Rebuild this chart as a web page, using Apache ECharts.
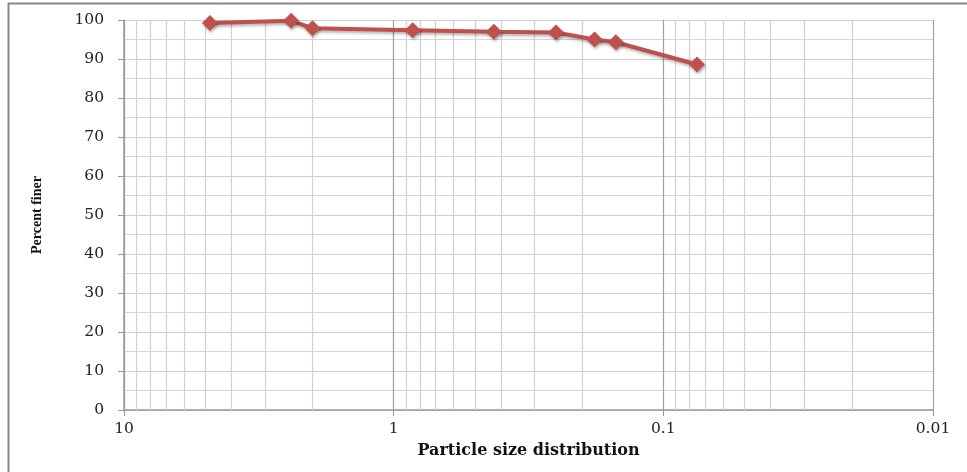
<!DOCTYPE html>
<html>
<head>
<meta charset="utf-8">
<script src="https://cdn.jsdelivr.net/npm/echarts@6/dist/echarts.min.js"></script>
<style>html,body{margin:0;padding:0;background:#fff}#c{width:967px;height:472px}</style>
</head>
<body>
<div id="c"></div>
<script>
// Particle sizes (mm) and percent finer
var sizes = [4.8, 2.4, 2.0, 0.85, 0.425, 0.25, 0.18, 0.15, 0.075];
var percentFiner = [99.2, 99.8, 97.9, 97.4, 97.0, 96.8, 95.0, 94.3, 88.6];
var xMin = 0.01, xMax = 10;
var yTicks = [0, 10, 20, 30, 40, 50, 60, 70, 80, 90, 100];
// minor log gridline positions (2..9 of each decade)
var minorGrid = [9,8,7,6,5,4,3,2, 0.9,0.8,0.7,0.6,0.5,0.4,0.3,0.2, 0.09,0.08,0.07,0.06,0.05,0.04,0.03,0.02];

var chart = echarts.init(document.getElementById('c'));
var serif = 'DejaVu Serif';
chart.setOption({
  animation: false,
  grid: {left: 124, right: 34, top: 20, bottom: 62},
  graphic: [
    {type: 'line', shape: {x1: 8.5, y1: 3, x2: 8.5, y2: 472}, style: {stroke: '#888', lineWidth: 2}},
    {type: 'line', shape: {x1: 8, y1: 3.5, x2: 967, y2: 3.5}, style: {stroke: '#888', lineWidth: 2}}
  ],
  xAxis: {
    type: 'log', logBase: 10, min: xMin, max: xMax, inverse: true,
    name: 'Particle size distribution', nameLocation: 'middle', nameGap: 33,
    nameTextStyle: {fontFamily: serif, fontWeight: 'bold', fontSize: 16, color: '#111'},
    axisLine: {show: true, lineStyle: {color: '#999', width: 1.5}},
    axisTick: {show: true, length: 6, lineStyle: {color: '#999'}},
    axisLabel: {fontFamily: serif, fontSize: 15.5, color: '#222', margin: 11,
      formatter: function (v) { return String(+v.toPrecision(3)); }},
    splitLine: {show: true, lineStyle: {color: '#a0a0a0', width: 1.2}},
    minorTick: {show: false}, minorSplitLine: {show: false}
  },
  yAxis: {
    type: 'value', min: 0, max: 100, interval: 10,
    name: 'Percent finer', nameLocation: 'middle', nameGap: 80, nameRotate: 90,
    nameTextStyle: {fontFamily: 'Liberation Serif', fontWeight: 'bold', fontSize: 14, color: '#111'},
    axisLine: {show: true, lineStyle: {color: '#999', width: 1.5}},
    axisTick: {show: true, length: 6, lineStyle: {color: '#999'}},
    axisLabel: {fontFamily: serif, fontSize: 15.5, color: '#222', margin: 20},
    splitLine: {show: true, lineStyle: {color: '#cfcfcf', width: 1.2}},
    minorTick: {show: false, splitNumber: 2},
    minorSplitLine: {show: true, lineStyle: {color: '#d6d6d6', width: 1.2}}
  },
  series: [{
    type: 'line',
    data: sizes.map(function (s, i) { return [s, percentFiner[i]]; }),
    symbol: 'diamond', symbolSize: 16,
    lineStyle: {color: '#C0504D', width: 4, shadowBlur: 3, shadowColor: 'rgba(0,0,0,0.3)', shadowOffsetX: 1, shadowOffsetY: 2},
    itemStyle: {color: '#C0504D', shadowBlur: 3, shadowColor: 'rgba(0,0,0,0.3)', shadowOffsetX: 1, shadowOffsetY: 2},
    z: 3,
    markLine: {
      silent: true, z: 1, symbol: ['none', 'none'], label: {show: false},
      lineStyle: {color: '#d0d0d0', width: 1.2, type: 'solid'},
      data: minorGrid.map(function (v) { return {xAxis: v}; })
    }
  }]
});
</script>
</body>
</html>
